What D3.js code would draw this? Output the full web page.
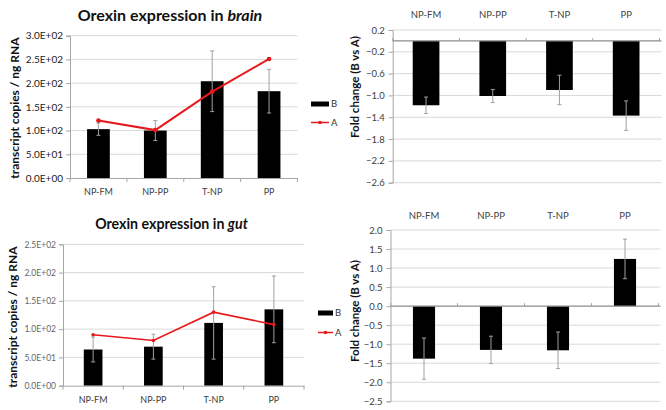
<!DOCTYPE html>
<html><head><meta charset="utf-8">
<script src="https://cdn.jsdelivr.net/npm/d3@7"></script>
<style>
html,body{margin:0;padding:0;background:#fff;}
svg{display:block;font-family:Lato,"Open Sans",sans-serif;}
</style></head>
<body><svg id="chart" width="666" height="410"></svg>
<script>
// ---------- data ----------
const categories = ["NP-FM", "NP-PP", "T-NP", "PP"];
const seriesNames = ["B", "A"];

const brainB    = [103, 100, 204, 183];
const brainBErr = [13, 21, 64, 46];
const brainA    = [121, 101, 182, 251];

const gutB    = [64, 69, 111, 135];
const gutBErr = [22, 22, 64, 59];
const gutA    = [90, 80, 130, 108];

const brainFold    = [-1.18, -1.01, -0.90, -1.37];
const brainFoldErr = [0.15, 0.12, 0.27, 0.27];
const gutFold      = [-1.38, -1.15, -1.16, 1.24];
const gutFoldErr   = [0.54, 0.36, 0.48, 0.52];

const brainTicks     = [0, 50, 100, 150, 200, 250, 300];
const gutTicks       = [0, 50, 100, 150, 200, 250];
const brainFoldTicks = [0.2, -0.2, -0.6, -1.0, -1.4, -1.8, -2.2, -2.6];
const gutFoldTicks   = [2.0, 1.5, 1.0, 0.5, 0.0, -0.5, -1.0, -1.5, -2.0, -2.5];

// ---------- helpers ----------
const svg = d3.select("#chart");
const RED = "#e8191c";
const GRID = "#d9d9d9";
const AXIS = "#a6a6a6";
const ERR = "#a0a0a0";

function sciFmt(v) {
  if (v === 0) return "0.0E+00";
  const e = Math.floor(Math.log10(Math.abs(v)));
  const m = v / Math.pow(10, e);
  return m.toFixed(1) + "E" + (e < 0 ? "-" : "+") + String(Math.abs(e)).padStart(2, "0");
}

function leftPanel(o) {
  const g = svg.append("g");
  const x = d3.scaleBand().domain(categories).range(o.xr).paddingInner(o.pad).paddingOuter(o.pad / 2);
  const y = d3.scaleLinear().domain(o.dom).range(o.yr);
  // grid
  g.append("g").selectAll("line").data(o.ticks.filter(t => t !== 0)).join("line")
    .attr("x1", o.xr[0]).attr("x2", o.xr[1])
    .attr("y1", d => y(d)).attr("y2", d => y(d))
    .attr("stroke", GRID).attr("stroke-width", 1);
  // y axis
  const ya = g.append("g").attr("transform", `translate(${o.xr[0]},0)`)
    .call(d3.axisLeft(y).tickValues(o.ticks).tickFormat(sciFmt).tickSize(4).tickPadding(3));
  ya.select(".domain").attr("stroke", AXIS);
  ya.selectAll(".tick line").attr("stroke", AXIS);
  ya.selectAll(".tick text").attr("fill", o.tickColor).style("font-size", o.tickSize + "px")
    .style("font-family", "Lato, sans-serif");
  // bars
  g.append("g").selectAll("rect").data(o.b).join("rect")
    .attr("x", (d, i) => x(categories[i]))
    .attr("width", x.bandwidth())
    .attr("y", d => y(d)).attr("height", d => y(0) - y(d))
    .attr("fill", "#000");
  // error bars
  const eg = g.append("g").attr("stroke", ERR).attr("stroke-width", 1);
  o.b.forEach((d, i) => {
    const cx = x(categories[i]) + x.bandwidth() / 2;
    eg.append("line").attr("x1", cx).attr("x2", cx).attr("y1", y(d + o.err[i])).attr("y2", y(d - o.err[i]));
    eg.append("line").attr("x1", cx - 2).attr("x2", cx + 2).attr("y1", y(d + o.err[i])).attr("y2", y(d + o.err[i]));
    eg.append("line").attr("x1", cx - 2).attr("x2", cx + 2).attr("y1", y(d - o.err[i])).attr("y2", y(d - o.err[i]));
  });
  // x axis
  const xa = g.append("g").attr("transform", `translate(0,${y(0)})`)
    .call(d3.axisBottom(x).tickSize(0).tickPadding(o.catPad));
  xa.select(".domain").attr("stroke", AXIS);
  xa.selectAll(".tick text").attr("fill", "#404040").style("font-size", o.catSize + "px")
    .style("font-family", "Lato, sans-serif");
  // band boundary ticks
  g.append("g").selectAll("line").data(d3.range(categories.length + 1)).join("line")
    .attr("x1", i => o.xr[0] + i * x.step()).attr("x2", i => o.xr[0] + i * x.step())
    .attr("y1", y(0)).attr("y2", y(0) + 4).attr("stroke", AXIS);
  // line A
  const line = d3.line().x((d, i) => x(categories[i]) + x.bandwidth() / 2).y(d => y(d));
  g.append("path").datum(o.a).attr("d", line).attr("fill", "none")
    .attr("stroke", RED).attr("stroke-width", o.lw);
  g.append("g").selectAll("circle").data(o.a).join("circle")
    .attr("cx", (d, i) => x(categories[i]) + x.bandwidth() / 2).attr("cy", d => y(d))
    .attr("r", o.mr).attr("fill", RED);
  // title
  const t = g.append("text").attr("x", o.title[0]).attr("y", o.title[1]).attr("text-anchor", "middle")
    .style("font-size", o.titleSize + "px").style("font-weight", "bold").attr("fill", "#111");
  t.append("tspan").text("Orexin expression in ");
  t.append("tspan").style("font-style", "italic").text(o.organ);
  // y title
  g.append("text").attr("transform", `translate(${o.ytitle[0]},${o.ytitle[1]}) rotate(-90)`)
    .attr("text-anchor", "middle").attr("dy", "0.35em")
    .style("font-size", o.ytSize + "px").style("font-weight", "bold").attr("fill", "#111")
    .text("transcript copies / ng RNA");
  // legend
  const L = o.leg;
  g.append("rect").attr("x", L[0]).attr("y", L[1] - 2.5).attr("width", L[2]).attr("height", 5).attr("fill", "#000");
  g.append("text").attr("x", L[0] + L[2] + 2).attr("y", L[1]).attr("dy", "0.35em")
    .style("font-size", "9.5px").attr("fill", "#333").text(seriesNames[0]);
  g.append("line").attr("x1", L[0]).attr("x2", L[0] + L[2]).attr("y1", L[3]).attr("y2", L[3])
    .attr("stroke", RED).attr("stroke-width", 1.5);
  g.append("circle").attr("cx", L[0] + L[2] / 2).attr("cy", L[3]).attr("r", 1.8).attr("fill", RED);
  g.append("text").attr("x", L[0] + L[2] + 2).attr("y", L[3]).attr("dy", "0.35em")
    .style("font-size", "9.5px").attr("fill", "#333").text(seriesNames[1]);
}

function rightPanel(o) {
  const g = svg.append("g");
  const x = d3.scaleBand().domain(categories).range(o.xr).paddingInner(o.pad).paddingOuter(o.pad / 2);
  const y = d3.scaleLinear().domain(o.dom).range(o.yr);
  g.append("g").selectAll("line").data(o.ticks.filter(t => Math.abs(t) > 1e-9)).join("line")
    .attr("x1", o.xr[0]).attr("x2", o.xr[1] + 2)
    .attr("y1", d => y(d)).attr("y2", d => y(d))
    .attr("stroke", GRID).attr("stroke-width", 1);
  const ya = g.append("g").attr("transform", `translate(${o.xr[0]},0)`)
    .call(d3.axisLeft(y).tickValues(o.ticks).tickFormat(d3.format(".1f")).tickSize(4).tickPadding(4));
  ya.select(".domain").attr("stroke", AXIS);
  ya.selectAll(".tick line").attr("stroke", AXIS);
  ya.selectAll(".tick text").attr("fill", "#404040").style("font-size", "9.5px")
    .style("font-family", "Lato, sans-serif");
  // bars
  g.append("g").selectAll("rect").data(o.v).join("rect")
    .attr("x", (d, i) => x(categories[i]))
    .attr("width", x.bandwidth())
    .attr("y", d => y(Math.max(0, d))).attr("height", d => Math.abs(y(d) - y(0)))
    .attr("fill", "#000");
  // zero axis
  g.append("line").attr("x1", o.xr[0]).attr("x2", o.xr[1] + 2).attr("y1", y(0)).attr("y2", y(0))
    .attr("stroke", "#8c8c8c").attr("stroke-width", 1.2);
  g.append("g").selectAll("line").data(d3.range(categories.length + 1)).join("line")
    .attr("x1", i => o.xr[0] + i * x.step()).attr("x2", i => o.xr[0] + i * x.step())
    .attr("y1", y(0) - 3).attr("y2", y(0)).attr("stroke", AXIS);
  // error bars
  const eg = g.append("g").attr("stroke", ERR).attr("stroke-width", 1);
  o.v.forEach((d, i) => {
    const cx = x(categories[i]) + x.bandwidth() / 2;
    eg.append("line").attr("x1", cx).attr("x2", cx).attr("y1", y(d + o.err[i])).attr("y2", y(d - o.err[i]));
    eg.append("line").attr("x1", cx - 2).attr("x2", cx + 2).attr("y1", y(d + o.err[i])).attr("y2", y(d + o.err[i]));
    eg.append("line").attr("x1", cx - 2).attr("x2", cx + 2).attr("y1", y(d - o.err[i])).attr("y2", y(d - o.err[i]));
  });
  // category labels on top
  const xa = g.append("g").attr("transform", `translate(0,${o.catY})`)
    .call(d3.axisTop(x).tickSize(0).tickPadding(0));
  xa.select(".domain").remove();
  xa.selectAll(".tick text").attr("fill", "#404040").style("font-size", "9.5px")
    .attr("dy", "0.35em").style("font-family", "Lato, sans-serif");
  g.append("text").attr("transform", `translate(${o.ytitle[0]},${o.ytitle[1]}) rotate(-90)`)
    .attr("text-anchor", "middle").attr("dy", "0.35em")
    .style("font-size", "11.5px").style("font-weight", "bold").attr("fill", "#111")
    .text("Fold change (B vs A)");
}

leftPanel({
  b: brainB, err: brainBErr, a: brainA, ticks: brainTicks, dom: [0, 300],
  xr: [70, 297.5], yr: [178, 35.7], pad: 0.6, organ: "brain",
  title: [170, 20.5], titleSize: 16, ytitle: [15, 108], ytSize: 12,
  tickColor: "#222", tickSize: 10, catSize: 9, catPad: 11,
  lw: 2, mr: 2.3, leg: [311, 104, 18, 122.5]
});
leftPanel({
  b: gutB, err: gutBErr, a: gutA, ticks: gutTicks, dom: [0, 250],
  xr: [63, 304], yr: [385.7, 244.3], pad: 0.69, organ: "gut",
  title: [171.5, 228.5], titleSize: 14.2, ytitle: [13, 317], ytSize: 12,
  tickColor: "#666", tickSize: 8.5, catSize: 9, catPad: 11,
  lw: 1.6, mr: 1.8, leg: [318, 313, 15, 332.5]
});
rightPanel({
  v: brainFold, err: brainFoldErr, ticks: brainFoldTicks, dom: [-2.6, 0.2],
  xr: [392.7, 659.5], yr: [182.7, 30], pad: 0.6, catY: 15, ytitle: [355, 87]
});
rightPanel({
  v: gutFold, err: gutFoldErr, ticks: gutFoldTicks, dom: [-2.5, 2.0],
  xr: [390.5, 658.5], yr: [401.3, 230], pad: 0.67, catY: 216, ytitle: [355, 311]
});
</script></body></html>
